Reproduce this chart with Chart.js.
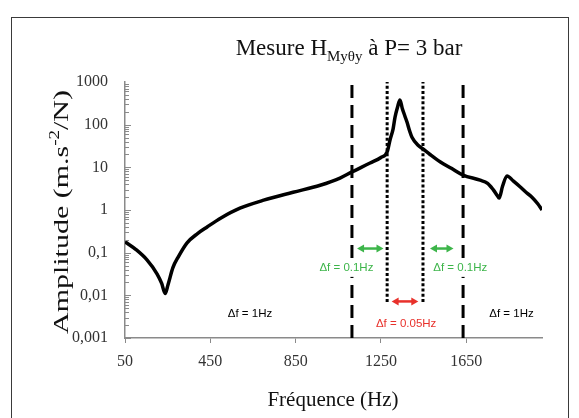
<!DOCTYPE html>
<html lang="fr">
<head>
<meta charset="utf-8">
<title>Mesure HMyθy à P= 3 bar</title>
<script src="https://cdn.jsdelivr.net/npm/chart.js@4.4.1/dist/chart.umd.min.js"></script>
<style>
  html, body { margin: 0; padding: 0; background: #fff; }
  #wrap { position: relative; width: 579px; height: 418px; }
</style>
</head>
<body>
<div id="wrap"><canvas id="graf"></canvas></div>
<script>
/* Mesure H_Myθy à P = 3 bar — amplitude (log) en fonction de la fréquence */

const SERIF = '"Liberation Serif", "Times New Roman", serif';
const SANS = '"Liberation Sans", Arial, sans-serif';
const NOIR = '#000000', VERT = '#3db54a', ROUGE = '#e8312b', GRIS_AXE = '#8a8a8a';

const FREQ = [50, 100, 153, 200, 222, 238, 252, 275, 300, 341, 390, 435, 500, 589, 700, 838, 965, 1058,
              1114, 1199, 1250, 1279, 1293, 1307, 1316, 1328, 1339, 1350, 1362, 1372, 1385, 1396, 1424, 1447,
              1480, 1527, 1580, 1635, 1715, 1750, 1776, 1795, 1804, 1820, 1841, 1870, 1902, 1930, 1958, 1985, 2005];
const AMP  = [0.18, 0.12, 0.068, 0.032, 0.019, 0.011, 0.018, 0.045, 0.08, 0.17, 0.28, 0.4, 0.65, 1.1, 1.7, 2.6, 3.8, 5.6,
              7.8, 12.6, 17, 23, 45, 80, 150, 260, 380, 240, 160, 115, 70, 50, 33, 27,
              20, 13.5, 9.5, 6.6, 5, 4.2, 3, 2.2, 1.9, 3.6, 6.3, 4.8, 3.5, 2.6, 2, 1.4, 1.0];

// axes
const X_MIN = 50, X_MAX = 2005;
const X_TICKS = [50, 450, 850, 1250, 1650];
const Y_TICKS = [0.001, 0.01, 0.1, 1, 10, 100, 1000];
const Y_LABELS = ['0,001', '0,01', '0,1', '1', '10', '100', '1000'];

// repères verticaux
const TIRETS = [1114, 1635];          // pointillés longs (Δf = 1 Hz)
const POINTS = [1279, 1447];          // pointillés fins (Δf = 0.05 Hz)
const BAS_POINTS = 0.007;             // les pointillés fins s'arrêtent à la flèche rouge

// flèches doubles : [f début, f fin, amplitude]
const FLECHES_VERTES = [[1138, 1262, 0.125], [1480, 1590, 0.125]];
const FLECHES_ROUGES = [[1300, 1425, 0.0072]];

// étiquettes : [texte, f, amplitude, couleur, fond blanc]
const ETIQUETTES = [
  ['Δf = 1Hz', 636, 0.0036, NOIR, false],
  ['Δf = 1Hz', 1862, 0.0036, NOIR, false],
  ['Δf = 0.1Hz', 1088, 0.044, VERT, true],
  ['Δf = 0.1Hz', 1622, 0.044, VERT, true],
  ['Δf = 0.05Hz', 1368, 0.0022, ROUGE, false],
];

function ligneVerticale(f, bas, dash, largeur) {
  return {
    data: [{ x: f, y: bas }, { x: f, y: 1000 }],
    borderColor: NOIR, borderWidth: largeur, borderDash: dash,
    borderCapStyle: 'butt', pointRadius: 0, fill: false,
  };
}

function fleche(ctx, x1, x2, y, couleur) {
  const t = 6;
  ctx.save();
  ctx.strokeStyle = couleur; ctx.fillStyle = couleur; ctx.lineWidth = 2.5;
  ctx.beginPath(); ctx.moveTo(x1 + t, y); ctx.lineTo(x2 - t, y); ctx.stroke();
  ctx.beginPath(); ctx.moveTo(x1, y); ctx.lineTo(x1 + t + 1, y - 4); ctx.lineTo(x1 + t + 1, y + 4); ctx.closePath(); ctx.fill();
  ctx.beginPath(); ctx.moveTo(x2, y); ctx.lineTo(x2 - t - 1, y - 4); ctx.lineTo(x2 - t - 1, y + 4); ctx.closePath(); ctx.fill();
  ctx.restore();
}

const decor = {
  id: 'decor',
  beforeDraw(chart) {
    const ctx = chart.ctx;
    ctx.save();
    ctx.fillStyle = '#fff';
    ctx.fillRect(0, 0, chart.width, chart.height);
    ctx.strokeStyle = '#3a3a3a'; ctx.lineWidth = 1;
    ctx.strokeRect(11.5, 17.5, 557, 420);
    ctx.restore();
  },
  afterDraw(chart) {
    const ctx = chart.ctx;
    const sx = chart.scales.x, sy = chart.scales.y;
    const a = chart.chartArea;

    // graduations secondaires de l'axe log, vers l'intérieur
    ctx.save();
    ctx.strokeStyle = GRIS_AXE; ctx.lineWidth = 1;
    for (let e = -3; e < 3; e++) {
      for (let k = 1; k < 10; k++) {
        const y = Math.round(sy.getPixelForValue(k * Math.pow(10, e))) + 0.5;
        ctx.beginPath(); ctx.moveTo(a.left, y); ctx.lineTo(a.left + (k === 1 ? 6 : 4), y); ctx.stroke();
      }
    }
    ctx.restore();

    FLECHES_VERTES.forEach(([f1, f2, v]) =>
      fleche(ctx, sx.getPixelForValue(f1), sx.getPixelForValue(f2), sy.getPixelForValue(v), VERT));
    FLECHES_ROUGES.forEach(([f1, f2, v]) =>
      fleche(ctx, sx.getPixelForValue(f1), sx.getPixelForValue(f2), sy.getPixelForValue(v), ROUGE));

    ctx.save();
    ctx.font = '11.5px ' + SANS;
    ctx.textAlign = 'center'; ctx.textBaseline = 'middle';
    ETIQUETTES.forEach(([txt, f, v, c, fond]) => {
      const x = sx.getPixelForValue(f), y = sy.getPixelForValue(v);
      if (fond) {
        const w = ctx.measureText(txt).width;
        ctx.fillStyle = '#fff';
        ctx.fillRect(x - w / 2 - 1, y - 9, w + 2, 18);
      }
      ctx.fillStyle = c;
      ctx.fillText(txt, x, y);
    });
    ctx.restore();

    // titre avec indice
    ctx.save();
    ctx.fillStyle = '#111'; ctx.textBaseline = 'alphabetic';
    const grand = '23px ' + SERIF, petit = '15px ' + SERIF;
    const p1 = 'Mesure H', p2 = 'Myθy', p3 = ' à P= 3 bar';
    ctx.font = grand; const w1 = ctx.measureText(p1).width, w3 = ctx.measureText(p3).width;
    ctx.font = petit; const w2 = ctx.measureText(p2).width;
    let x = 349 - (w1 + w2 + w3) / 2;
    ctx.font = grand; ctx.fillText(p1, x, 55); x += w1;
    ctx.font = petit; ctx.fillText(p2, x, 61); x += w2;
    ctx.font = grand; ctx.fillText(p3, x, 55);
    ctx.restore();

    // titre de l'axe x
    ctx.save();
    ctx.fillStyle = '#111'; ctx.font = '21px ' + SERIF;
    ctx.textAlign = 'center'; ctx.textBaseline = 'middle';
    ctx.fillText('Fréquence (Hz)', 333, 400);
    ctx.restore();

    // titre de l'axe y (exposant), étiré comme sur la figure d'origine
    ctx.save();
    ctx.translate(62, 212); ctx.rotate(-Math.PI / 2);
    ctx.fillStyle = '#111'; ctx.textBaseline = 'middle';
    const q1 = 'Amplitude (m.s', q2 = '-2', q3 = '/N)';
    const fy = '22px ' + SERIF, fs = '14px ' + SERIF;
    ctx.font = fy; const v1 = ctx.measureText(q1).width, v3 = ctx.measureText(q3).width;
    ctx.font = fs; const v2 = ctx.measureText(q2).width;
    const total = v1 + v2 + v3;
    ctx.scale(244 / total, 1);
    let xx = -total / 2;
    ctx.font = fy; ctx.fillText(q1, xx, 0); xx += v1;
    ctx.font = fs; ctx.fillText(q2, xx, -7); xx += v2;
    ctx.font = fy; ctx.fillText(q3, xx, 0);
    ctx.restore();
  },
};

new Chart(document.getElementById('graf'), {
  type: 'line',
  data: {
    datasets: [
      { data: FREQ.map((f, i) => ({ x: f, y: AMP[i] })), borderColor: NOIR, borderWidth: 3.5,
        pointRadius: 0, cubicInterpolationMode: 'monotone', fill: false },
      ...TIRETS.map((f) => ligneVerticale(f, 0.001, [13, 7], 3)),
      ...POINTS.map((f) => ligneVerticale(f, BAS_POINTS, [3, 2.2], 3)),
    ],
  },
  options: {
    responsive: true, maintainAspectRatio: false, animation: false,
    layout: { padding: { left: 0, right: 37, top: 82, bottom: 0 } },
    plugins: { legend: { display: false }, tooltip: { enabled: false }, title: { display: false } },
    scales: {
      x: {
        type: 'linear', min: X_MIN, max: X_MAX,
        afterBuildTicks: (s) => { s.ticks = X_TICKS.map((v) => ({ value: v })); },
        afterFit: (s) => { s.height = 80; },
        grid: { display: true, drawOnChartArea: false, tickLength: 5, color: GRIS_AXE },
        border: { color: GRIS_AXE, width: 1.5 },
        ticks: { font: { family: SERIF, size: 16 }, color: '#333', padding: 9, maxRotation: 0,
                 callback: (v) => String(v) },
      },
      y: {
        type: 'logarithmic', min: 0.001, max: 1000,
        afterBuildTicks: (s) => { s.ticks = Y_TICKS.map((v) => ({ value: v })); },
        afterFit: (s) => { s.width = 125; },
        grid: { display: false, drawTicks: false },
        border: { display: true, color: GRIS_AXE, width: 1.5 },
        ticks: { font: { family: SERIF, size: 16 }, color: '#333', padding: 17,
                 callback: (v) => Y_LABELS[Y_TICKS.findIndex((t) => Math.abs(t - v) < v * 1e-6)] ?? '' },
      },
    },
  },
  plugins: [decor],
});
</script>
</body>
</html>
